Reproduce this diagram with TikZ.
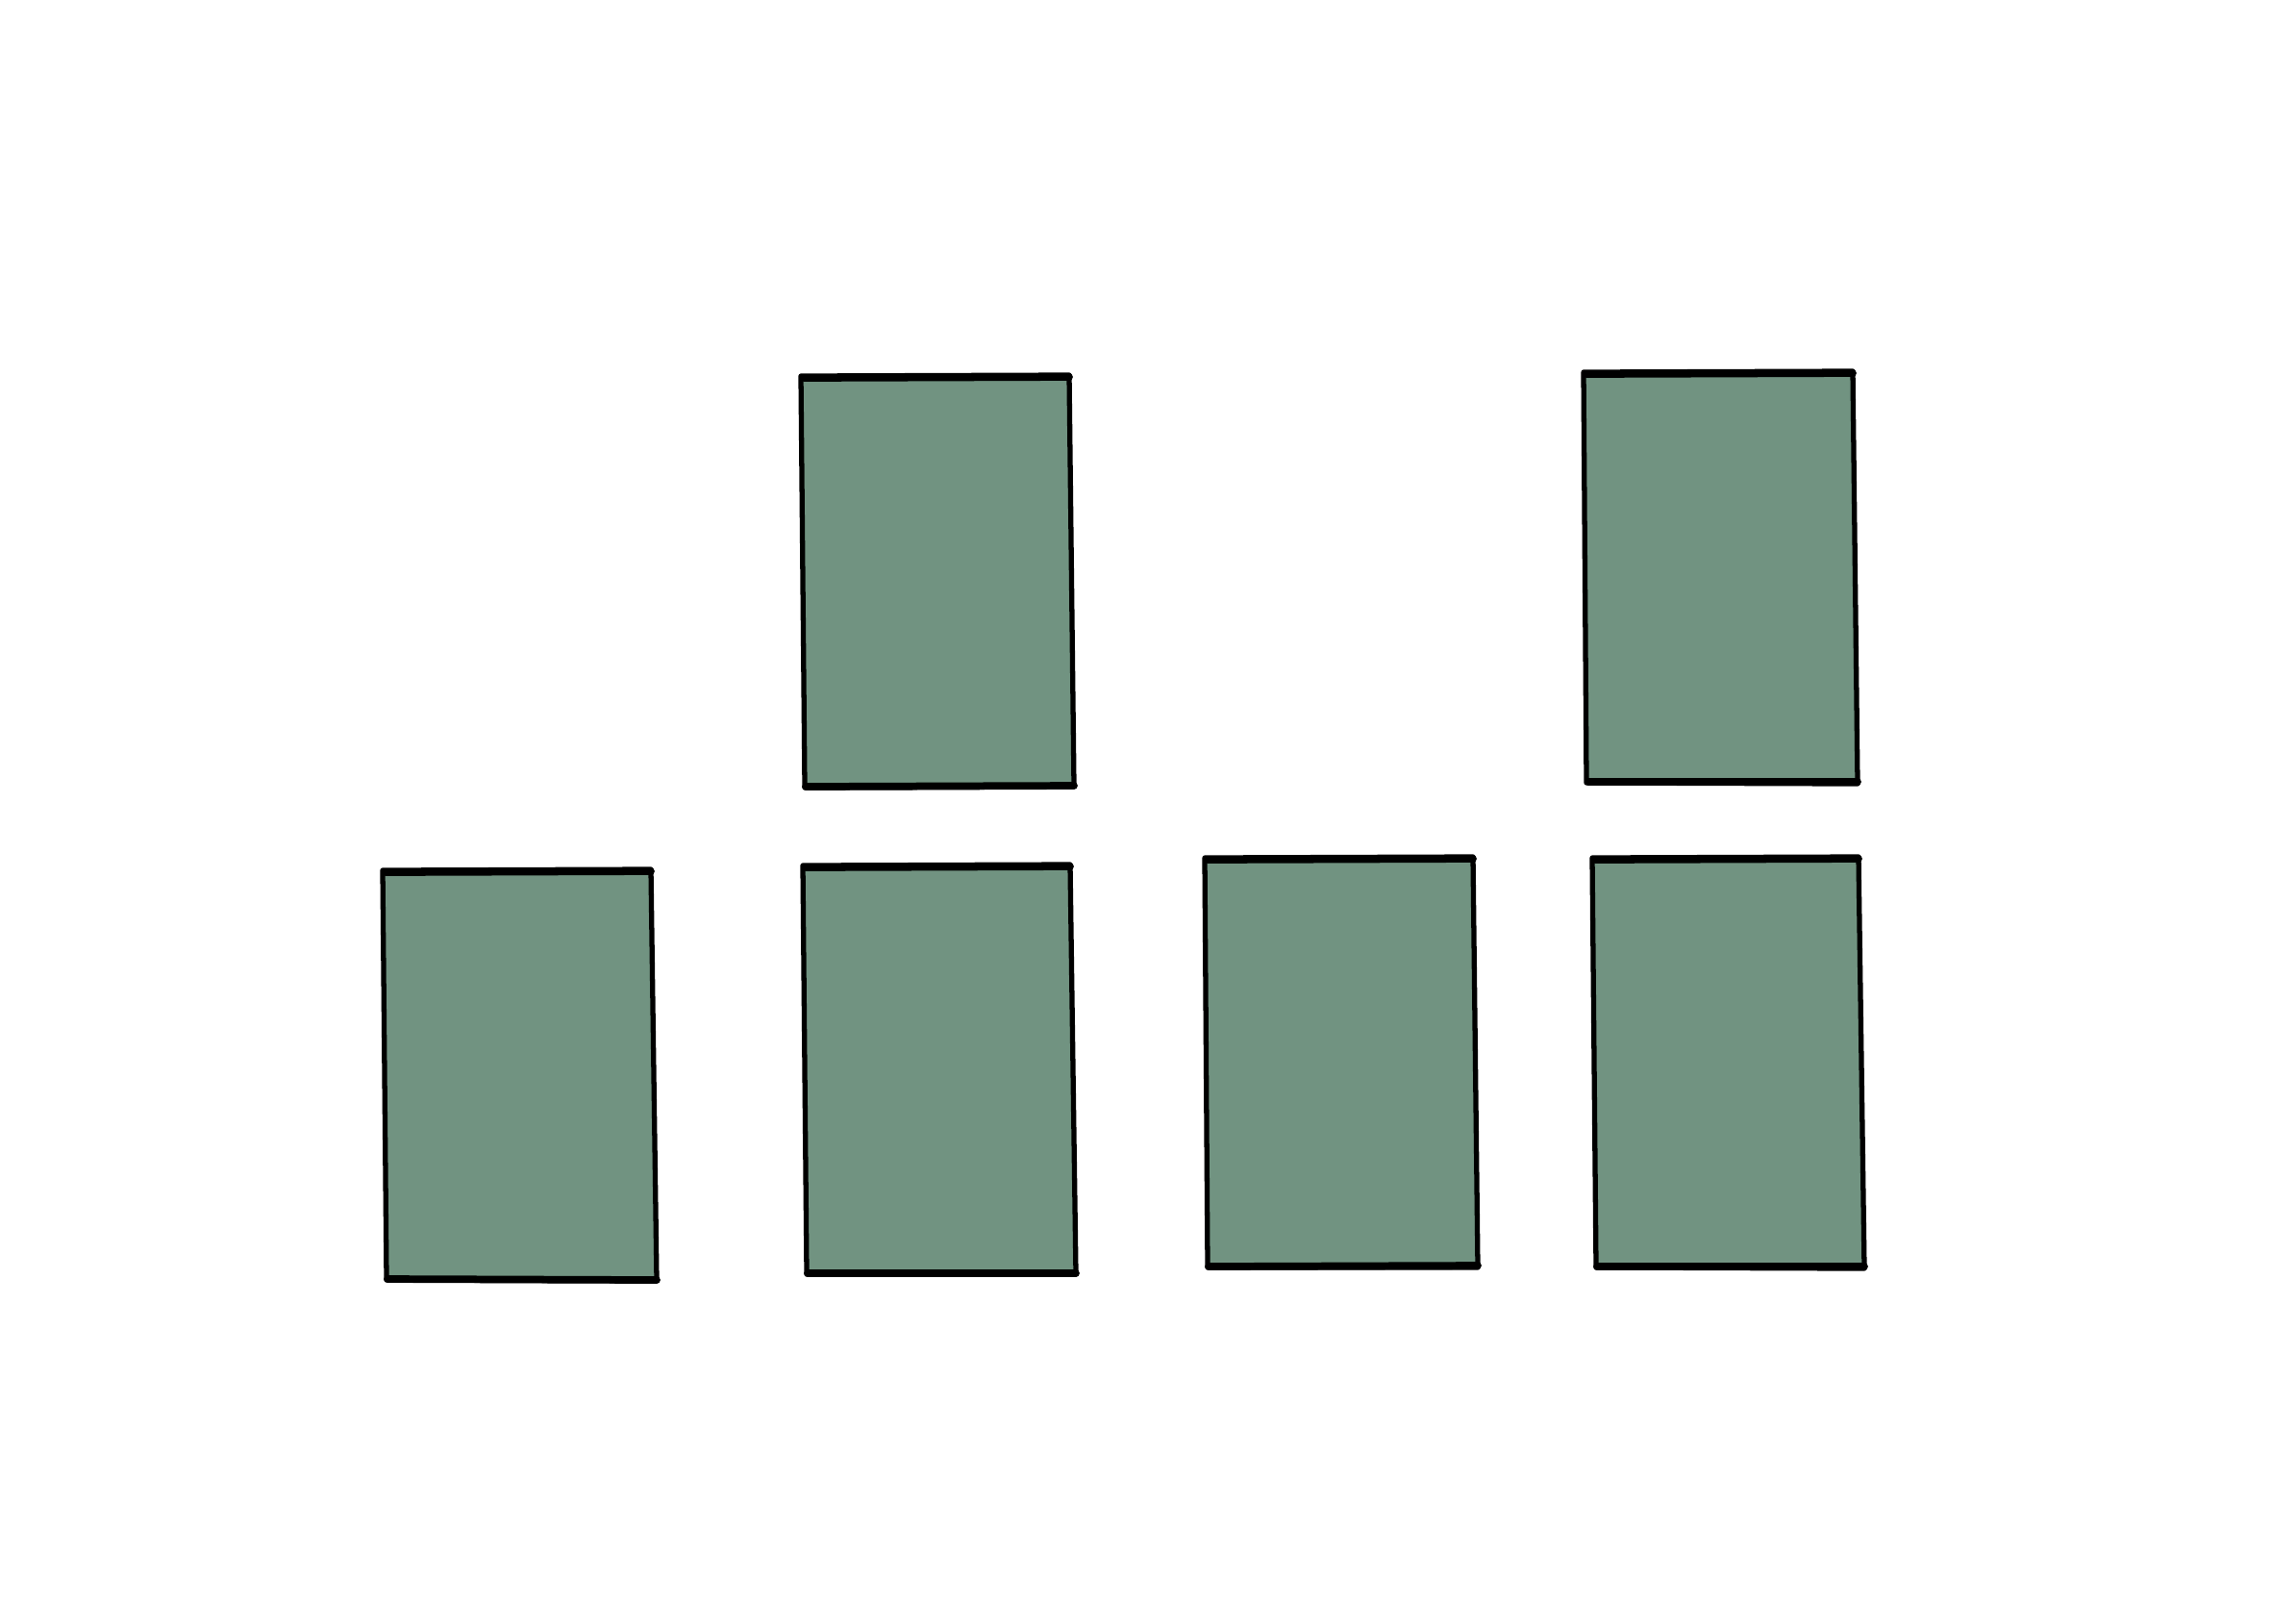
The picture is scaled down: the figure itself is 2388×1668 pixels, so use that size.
\documentclass[tikz,border=0pt]{standalone}
\begin{document}
\begin{tikzpicture}[x=0.01cm,y=-0.01cm,
  card/.style={fill=cardgreen,draw=black,line width=1.5pt,line join=round,line cap=round},
  edge/.style={draw=black,line width=2.2pt,line cap=round}]
\definecolor{cardgreen}{HTML}{719381}
\useasboundingbox[fill=white] (0,0) rectangle (2388,1668);
% top row
\path[card] (833,391) -- (1112,390) -- (1117,818) -- (837,819) -- cycle;
\draw[edge] (836,393) -- (1112,392); \draw[edge] (838,818) -- (1117,817);
\path[card] (1647,387) -- (1927,386) -- (1932,815) -- (1650,814) -- cycle;
\draw[edge] (1650,389) -- (1927,388); \draw[edge] (1652,813) -- (1932,813);
% bottom row
\path[card] (398,905) -- (677,904) -- (683,1332) -- (402,1331) -- cycle;
\draw[edge] (401,907) -- (677,906); \draw[edge] (403,1330) -- (683,1331);
\path[card] (835,900) -- (1113,899) -- (1119,1325) -- (839,1325) -- cycle;
\draw[edge] (838,902) -- (1113,901); \draw[edge] (840,1324) -- (1119,1324);
\path[card] (1253,892) -- (1532,891) -- (1537,1318) -- (1256,1318) -- cycle;
\draw[edge] (1256,894) -- (1532,893); \draw[edge] (1257,1317) -- (1537,1316);
\path[card] (1656,892) -- (1933,891) -- (1939,1319) -- (1660,1318) -- cycle;
\draw[edge] (1659,894) -- (1933,893); \draw[edge] (1661,1317) -- (1939,1317);
\end{tikzpicture}
\end{document}
